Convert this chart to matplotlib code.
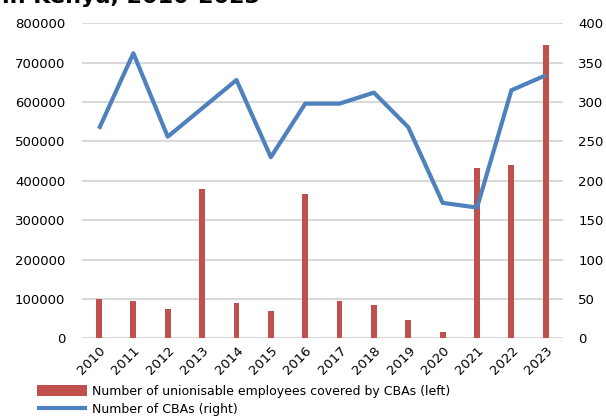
import matplotlib.pyplot as plt
import numpy as np

years = ['2010', '2011', '2012', '2013', '2014', '2015', '2016',
         '2017', '2018', '2019', '2020', '2021', '2022', '2023']
employees = [100000, 95500, 75000, 380000, 90000, 69500, 366000,
             94000, 84000, 46000, 16000, 432000, 441000, 744000]
cbas = [266, 362, 256, 292, 328, 230, 298,
        298, 312, 268, 172, 166, 315, 334]

red = '#c0504d'
blue = '#4f81bd'
grid = '#d9d9d9'

plt.rcParams['font.family'] = 'DejaVu Sans'

fig = plt.figure(figsize=(6.06, 4.2), dpi=100, facecolor='w')
ax = fig.add_axes([0.135, 0.1945, 0.794, 0.75])
ax2 = ax.twinx()

x = np.arange(len(years))

# bars on the left axis
ax.bar(x, employees, width=0.17, color=red, zorder=2,
       label='Number of unionisable employees covered by CBAs (left)')
ax.set_ylim(0, 800000)
ax.set_yticks(np.arange(0, 800001, 100000))
ax.set_xlim(-0.5, len(years) - 0.5)
ax.set_xticks(x)
ax.set_xticklabels(years, rotation=45, ha='right', rotation_mode='anchor')
ax.yaxis.grid(True, color=grid, linewidth=1.5, zorder=0)
ax.set_axisbelow(True)

# line on the right axis
ax2.plot(x, cbas, color=blue, linewidth=3, solid_capstyle='butt',
         label='Number of CBAs (right)')
ax2.set_ylim(0, 400)
ax2.set_yticks(np.arange(0, 401, 50))

for a in (ax, ax2):
    for s in a.spines.values():
        s.set_visible(False)
    a.tick_params(length=0, labelsize=9.5, colors='black')
ax.tick_params(axis='y', pad=12)
ax2.tick_params(axis='y', pad=11)
ax.tick_params(axis='x', pad=4)

# title, cut off at the top of the picture
fig.text(0.004, 0.9935, 'in Kenya, 2010-2023', fontsize=16, fontweight='bold',
         va='baseline', ha='left')

h1, l1 = ax.get_legend_handles_labels()
h2, l2 = ax2.get_legend_handles_labels()
fig.legend(h1 + h2, l1 + l2, loc='lower left', bbox_to_anchor=(0.047, -0.012),
           frameon=False, fontsize=9, handlelength=4.0, handleheight=1.0,
           labelspacing=0.45, handletextpad=0.4, borderpad=0.2)

fig.savefig('out.png', dpi=100)
